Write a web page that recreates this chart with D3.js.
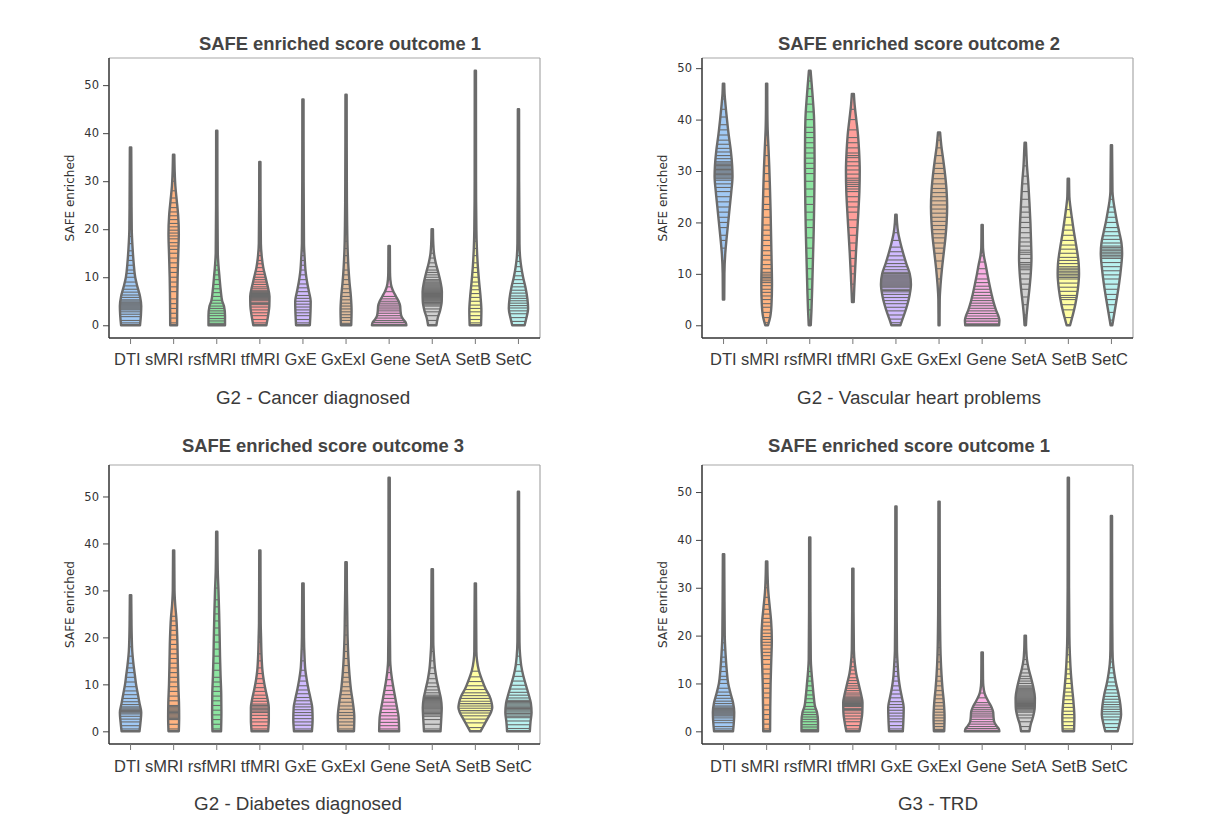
<!doctype html>
<html lang="en">
<head>
  <meta charset="utf-8">
  <title>SAFE enriched score violins</title>
  <script src="https://cdn.jsdelivr.net/npm/d3@7/dist/d3.min.js"></script>
</head>
<body style="margin: 0; background: #fff; overflow: hidden;">
<script>
// ---- data ----
const categories = ["DTI", "sMRI", "rsfMRI", "tfMRI", "GxE", "GxExI", "Gene", "SetA", "SetB", "SetC"];
const yTicks = [0, 10, 20, 30, 40, 50];
const titles = ["SAFE enriched score outcome 1", "SAFE enriched score outcome 2",
                "SAFE enriched score outcome 3", "SAFE enriched score outcome 1"];
const xLabels = ["G2 - Cancer diagnosed", "G2 - Vascular heart problems",
                 "G2 - Diabetes diagnosed", "G3 - TRD"];

// density profile per violin: [value, relative half width (1 = full violin width)]
const outcome1Density = [
  [[0,0.55],[2,0.6],[4,0.62],[6,0.55],[8,0.4],[10,0.27],[13,0.18],[16,0.12],[20,0.07],[30,0.05],[37,0.04]],
  [[0,0.2],[5,0.21],[10,0.23],[15,0.27],[19,0.3],[23,0.26],[26,0.18],[29,0.1],[32,0.06],[35.5,0.04]],
  [[0,0.48],[2,0.48],[4,0.42],[5,0.32],[7,0.24],[10,0.16],[12.5,0.1],[15,0.06],[25,0.04],[40.5,0.035]],
  [[0,0.38],[2,0.48],[4,0.55],[6,0.56],[8,0.46],[10,0.33],[12,0.2],[14,0.12],[17,0.06],[25,0.04],[34,0.035]],
  [[0,0.4],[3,0.44],[5,0.45],[7,0.35],[9,0.24],[11,0.16],[14,0.1],[17,0.06],[30,0.04],[47,0.035]],
  [[0,0.3],[3,0.32],[6,0.28],[9,0.2],[12,0.14],[16,0.09],[22,0.06],[30,0.045],[48,0.035]],
  [[0,1.0],[0.5,0.97],[1.2,0.82],[2,0.7],[3,0.66],[4,0.64],[5,0.55],[6,0.4],[7,0.25],[8,0.14],[9.5,0.07],[11,0.05],[16.5,0.04]],
  [[0,0.24],[1.5,0.32],[3,0.45],[5,0.55],[7,0.56],[9,0.48],[11,0.35],[13,0.2],[15,0.1],[17,0.06],[20,0.04]],
  [[0,0.33],[3,0.35],[6,0.3],[9,0.22],[12,0.15],[16,0.09],[20,0.06],[30,0.04],[53,0.035]],
  [[0,0.36],[1.5,0.46],[3.5,0.56],[5.5,0.52],[8,0.4],[10,0.27],[12,0.17],[14,0.1],[17,0.06],[30,0.04],[45,0.035]]
];
const outcome1Sticks = [
  [0.5,1,1.8,2.3,2.8,3.2,3.4,3.6,3.8,4,4.2,4.4,4.6,4.8,5.05,5.3,5.8,6.3,6.9,7.5,8.2,9,10,10.8,11.5,12.5,13.5,14.5,15.5,17,18.5,20,22,24,26.5,29,31,33],
  [0.5,1.5,2.5,3.5,4.5,5.5,7,8,9,10,11,12,13,14,15,15.8,16.5,17.2,18,18.6,19.2,19.8,20.5,21.2,22,22.8,23.6,24.5,25.5,26.5,28,30,31],
  [0.4,0.9,1.4,2,2.5,3,3.5,4,4.6,5.2,6,6.8,7.6,8.5,9.5,10.5,11.5,12.5],
  [0.5,1.2,2,2.6,3.2,3.8,4.3,4.55,4.8,5.2,5.4,5.6,5.8,6,6.2,6.4,6.6,6.8,7,7.2,7.6,8,8.5,9,9.5,10,10.6,11.2,12,12.8,13.5,14.5,15.5],
  [0.5,1.2,2,2.6,3.2,3.8,4.4,5,5.6,6.2,7,7.8,8.6,9.5,10.5,11.5,12.5,13.5,14.5,15.5],
  [0.4,1,1.6,2.2,2.8,3.4,4,4.6,5.3,6,6.8,7.6,8.5,9.5,10.5,11.5,13,14.5,16,17.5,19,20.5,22,24,26],
  [0.2,0.6,1,1.5,2,2.5,3,3.4,3.8,4.2,4.6,5,5.5,6,7,8,9.5],
  [1,2,2.8,3.4,4,4.25,4.5,4.75,5,5.2,5.4,5.6,5.8,6,6.2,6.4,6.6,6.8,7,7.2,7.4,7.6,7.8,8,8.2,8.4,8.6,8.8,9,9.25,9.5,10,10.5,11,11.5,12.2,13,14,15,16.5],
  [0.5,1.2,2,2.8,3.5,4.2,5,5.8,6.6,7.4,8.2,9,10,11,12,13,14.5,16,17.5,19,20.5],
  [0.8,1.6,2.4,3,3.6,4.1,4.6,5.1,5.6,6.1,6.7,7.3,8,8.7,9.5,10.3,11.2,12.2,13.3,14.5]
];

const outcome2Density = [
  [[5,0.04],[10,0.05],[14,0.1],[17,0.18],[20,0.27],[23,0.36],[26,0.45],[29,0.52],[31,0.5],[34,0.42],[37,0.3],[40,0.2],[43,0.11],[45,0.06],[47,0.04]],
  [[0,0.08],[1.5,0.2],[4,0.28],[8,0.31],[12,0.29],[17,0.26],[22,0.23],[27,0.19],[31,0.15],[35,0.1],[38,0.06],[42,0.04],[47,0.035]],
  [[0,0.06],[3,0.1],[7,0.14],[12,0.18],[17,0.22],[22,0.25],[27,0.27],[32,0.28],[37,0.27],[41,0.24],[44,0.18],[47,0.11],[49.5,0.05]],
  [[4.5,0.05],[7,0.08],[10,0.12],[14,0.18],[18,0.25],[22,0.32],[26,0.38],[30,0.4],[34,0.36],[37,0.3],[40,0.2],[43,0.1],[45,0.06]],
  [[0,0.26],[1,0.36],[2.5,0.52],[4,0.66],[6,0.8],[8,0.87],[10,0.8],[12,0.6],[14,0.42],[16,0.26],[18,0.13],[20,0.06],[21.5,0.04]],
  [[0,0.03],[5,0.04],[8,0.09],[11,0.17],[14,0.27],[17,0.37],[20,0.44],[23,0.47],[26,0.44],[29,0.36],[32,0.25],[35,0.13],[37.5,0.06]],
  [[0,0.98],[1,1.0],[2,0.92],[3,0.8],[4.5,0.66],[6,0.55],[8,0.42],[10,0.3],[12,0.19],[13.5,0.1],[15,0.05],[19.5,0.035]],
  [[0,0.04],[2,0.08],[4,0.14],[7,0.24],[10,0.32],[13,0.36],[16,0.34],[20,0.3],[24,0.24],[28,0.17],[31,0.1],[34,0.06],[35.5,0.04]],
  [[0,0.1],[1.5,0.22],[4,0.4],[7,0.55],[10,0.62],[12,0.6],[15,0.48],[18,0.33],[21,0.2],[23,0.12],[25,0.06],[28.5,0.04]],
  [[0,0.05],[2,0.15],[5,0.3],[8,0.44],[11,0.55],[14,0.62],[16,0.58],[18,0.46],[20,0.33],[22,0.22],[24,0.12],[26,0.06],[35,0.035]]
];
const outcome2Sticks = [
  [7,10,12.5,15,16.5,17.5,19,20,21,22,23,24,25,26,26.8,27.5,28.2,28.5,28.8,29.05,29.3,29.55,29.8,30.05,30.3,30.55,30.8,31.05,31.3,31.55,31.8,32.4,33,33.7,34.4,35.2,36,37,38,39,40.5,42,44],
  [0.5,1.5,2.5,3.5,4.2,5,5.7,6.4,7,7.7,8.3,8.65,9,9.3,9.6,9.95,10.3,11,11.8,12.7,13.6,14.5,15.5,16.5,17.5,18.5,19.5,21,22.5,23.5,25,26.5,28,29.5,31,33,35,37],
  [1,3,5,7,9,11,13,15,17,19,20.5,22,23.5,25,26.5,28,29.5,30.5,31.5,32.5,33.5,34.5,35.5,36.5,37.5,38.5,40,41.5,43,44.5,46,47.5],
  [6,8,10,11.5,13,14.5,16,17.5,19,20.5,22,23,24,25,26,26.5,27,27.4,27.8,28.2,28.6,29.4,30.2,31,31.8,32.6,33,33.5,34.5,35.5,36.5,38,40,42],
  [0.5,1.2,2,2.8,3.5,4.2,4.8,5.4,6,6.5,6.75,7,7.4,7.6,7.8,8,8.2,8.4,8.6,8.8,9,9.2,9.4,9.6,9.8,10.05,10.3,10.8,11.4,12,12.7,13.5,14.3,15.2,16.5,18],
  [9,11,12.5,14,15,16,17,17.8,18.6,19.4,20.2,21,21.8,22.6,23.4,24.2,25,25.8,26.6,27.5,28.5,29.5,30.5,31.5,33,34.5,36],
  [0.3,0.8,1.3,1.8,2.3,2.8,3.3,3.8,4.3,4.8,5.3,5.8,6.4,7,7.6,8.3,9,10,11,12.3,13.5],
  [2,4,5.5,7,8,9,10,10.8,11.15,11.5,11.85,12.2,13,13.8,14.2,14.6,15.4,16.2,17,18,19,20,21,22,23,24.5,26,27.5,29,31,33],
  [1.5,3,4,5,5.4,5.8,6.6,7.4,8.2,9,9.3,9.6,9.9,10.2,10.5,10.8,11.1,11.4,12,12.6,13.2,14,14.8,15.6,16.5,17.5,18.5,19.5,21,22.5,24.5],
  [1,2.5,4,5,6,7,8,9,9.8,10.6,11.4,12.2,13,13.3,13.6,13.9,14.2,14.5,14.8,15.1,15.4,16,16.7,17.4,18.2,19,20,21,22,23,24.5]
];

const outcome3Density = [
  [[0,0.52],[2,0.58],[4,0.62],[6,0.52],[8,0.42],[10,0.32],[12,0.25],[14,0.18],[17,0.1],[20,0.07],[25,0.05],[29,0.04]],
  [[0,0.3],[3,0.32],[6,0.31],[10,0.27],[15,0.24],[20,0.21],[24,0.16],[27,0.09],[30,0.05],[38.5,0.035]],
  [[0,0.25],[4,0.27],[8,0.26],[12,0.22],[16,0.19],[20,0.17],[25,0.14],[30,0.1],[34,0.06],[42.5,0.035]],
  [[0,0.48],[2.5,0.52],[5,0.52],[7,0.44],[9,0.32],[11,0.22],[13,0.15],[16,0.1],[20,0.07],[23,0.05],[38.5,0.035]],
  [[0,0.52],[2.5,0.56],[5,0.54],[7,0.44],[9,0.32],[11,0.22],[13,0.14],[16,0.09],[20,0.06],[31.5,0.04]],
  [[0,0.46],[3,0.48],[6,0.4],[9,0.28],[12,0.2],[16,0.13],[20,0.09],[25,0.07],[30,0.05],[36,0.04]],
  [[0,0.58],[3,0.55],[5,0.46],[7,0.36],[9,0.26],[11,0.17],[13,0.1],[15,0.06],[25,0.04],[54,0.035]],
  [[0,0.48],[2.5,0.52],[5,0.55],[7,0.5],[9,0.38],[11,0.26],[13,0.17],[16,0.1],[19,0.06],[34.5,0.04]],
  [[0,0.3],[1,0.45],[2.5,0.68],[4,0.9],[5,0.98],[6,0.95],[7.5,0.82],[9,0.6],[11,0.38],[13,0.2],[15,0.1],[17,0.06],[31.5,0.035]],
  [[0,0.66],[2,0.7],[4,0.76],[6,0.72],[8,0.58],[10,0.42],[12,0.27],[14,0.16],[16,0.1],[19,0.06],[30,0.04],[51,0.035]]
];
const outcome3Sticks = [
  [0.5,1.2,2,2.6,3.2,3.7,3.95,4.2,4.45,4.7,4.95,5.2,5.7,6.3,7,7.8,8.6,9.5,10.5,11.5,12.5,13.5,14.5,16,18,20.5,23,25],
  [0.5,1.5,2.5,2.75,3,3.25,3.5,3.75,4,4.25,4.5,4.75,5,5.25,5.5,6.5,7.5,8.5,9.5,10.5,11.5,12.5,13.5,14.5,15.5,16.5,17.5,18.5,19.5,20.5,21.5,22.5,23.5,24.5],
  [0.5,1.5,2.5,3.5,4.5,5.5,6.5,7.5,8.5,9.5,10.5,11.5,13,14.5,16,17.5,19,20.5,22,23.5,25,26.5,28,30.5],
  [0.5,1.2,2,2.7,3.4,4,4.3,4.6,4.9,5.2,5.5,5.8,6.4,7,7.7,8.5,9.3,10.2,11.2,12.3,13.5,15,16.5,19,22],
  [0.5,1.3,2,2.7,3.4,4,4.6,5.2,5.8,6.5,7.2,8,8.8,9.7,10.7,11.8,13,15,17.5,20,22,24.5,27],
  [0.5,1.3,2,2.7,3.4,4,4.7,5.4,6.2,7,7.8,8.6,9.5,10.5,11.5,12.5,14,15.5,17,18.5,20.5,22.5,25,27,30],
  [0.5,1.2,1.9,2.6,3.3,4,4.7,5.4,6.2,7,7.8,8.7,9.7,11,12.5,14],
  [0.5,1.5,2.5,3.2,3.5,3.8,4.05,4.3,4.55,4.8,5,5.2,5.4,5.6,5.8,6,6.2,6.4,6.6,6.8,7,7.2,7.45,7.7,8.2,8.8,9.5,10.3,11.2,12.3,13.5,15,17,19,22],
  [0.8,1.8,2.6,3.3,3.9,4.4,4.9,5.4,5.9,6.4,7,7.6,8.2,8.9,9.7,10.6,11.6,12.8],
  [0.6,1.4,2.2,2.9,3.2,3.5,3.8,4.1,4.35,4.6,4.85,5.1,5.35,5.6,5.85,6.1,6.35,6.6,7.1,7.7,8.3,9,9.8,10.7,11.7,12.8,14.2,16,18]
];

// ---- layout ----
const config = { width: 1207, height: 831 };
const palette = ["#a1c9f4", "#ffb482", "#8de5a1", "#ff9f9b", "#d0bbff",
                 "#debb9b", "#fab0e4", "#cfcfcf", "#fffea3", "#b9f2f0"];
const gray = "#6b6b6b";
const panels = [
  { left: 109, right: 540, top: 58, bottom: 338, titleX: 340, titleY: 50, tickLabelStart: 114, tickLabelY: 365, labelX: 313, labelY: 404, yLabelX: 70 },
  { left: 702, right: 1133, top: 58, bottom: 338, titleX: 919, titleY: 50, tickLabelStart: 710, tickLabelY: 365, labelX: 919, labelY: 404, yLabelX: 663 },
  { left: 109, right: 540, top: 465, bottom: 744, titleX: 323, titleY: 452, tickLabelStart: 114, tickLabelY: 772, labelX: 298, labelY: 810, yLabelX: 70 },
  { left: 702, right: 1133, top: 465, bottom: 744, titleX: 909, titleY: 452, tickLabelStart: 710, tickLabelY: 772, labelX: 938, labelY: 810, yLabelX: 663 }
];
const tickRowWidth = 418;
const datasets = [
  [outcome1Density, outcome1Sticks],
  [outcome2Density, outcome2Sticks],
  [outcome3Density, outcome3Sticks],
  [outcome1Density, outcome1Sticks]
];

let svg = d3.select("body").append("svg")
  .attr("width", config.width)
  .attr("height", config.height);

// linear lookup of the half width at a value
function widthAt(prof, v) {
  for (let k = 1; k < prof.length; k++) {
    if (v <= prof[k][0]) {
      let t = (v - prof[k-1][0]) / (prof[k][0] - prof[k-1][0]);
      return prof[k-1][1] + t * (prof[k][1] - prof[k-1][1]);
    }
  }
  return prof[prof.length-1][1];
}

panels.forEach((p, pi) => {
  let density = datasets[pi][0], sticks = datasets[pi][1];
  let g = svg.append("g");

  let xScale = d3.scaleBand().domain(categories).range([p.left, p.right]);
  let ymax = d3.max(density, d => d3.max(d, e => e[0]));
  let yScale = d3.scaleLinear()
    .domain([-ymax * 0.05, ymax * 1.05])
    .range([p.bottom, p.top]);
  let half = xScale.bandwidth() * 0.4;

  density.forEach((prof, i) => {
    let cx = xScale(categories[i]) + xScale.bandwidth() / 2;
    let area = d3.area()
      .curve(d3.curveMonotoneY)
      .y(d => yScale(d[0]))
      .x0(d => cx - d[1] * half)
      .x1(d => cx + d[1] * half);

    g.append("path").attr("d", area(prof)).attr("fill", palette[i]);

    sticks[i].forEach(v => {
      let w = widthAt(prof, v) * half;
      g.append("line")
        .attr("x1", cx - w).attr("x2", cx + w)
        .attr("y1", yScale(v)).attr("y2", yScale(v))
        .attr("stroke", gray)
        .attr("stroke-width", 1.1);
    });

    g.append("path").attr("d", area(prof))
      .attr("fill", "none")
      .attr("stroke", gray)
      .attr("stroke-width", 2.4)
      .attr("stroke-linejoin", "round");
  });

  // frame
  g.append("line").attr("x1", p.left).attr("x2", p.right).attr("y1", p.top).attr("y2", p.top)
    .attr("stroke", "#a8a8a8").attr("stroke-width", 1.2);
  g.append("line").attr("x1", p.right).attr("x2", p.right).attr("y1", p.top).attr("y2", p.bottom)
    .attr("stroke", "#a8a8a8").attr("stroke-width", 1.2);

  let yAxis = g.append("g")
    .attr("transform", "translate(" + p.left + ",0)")
    .call(d3.axisLeft(yScale).tickValues(yTicks).tickSize(6).tickPadding(4));
  yAxis.select(".domain").attr("stroke", "#333").attr("stroke-width", 1.5)
    .attr("d", "M0," + p.top + "V" + p.bottom);
  yAxis.selectAll(".tick line").attr("stroke", "#444");
  yAxis.selectAll(".tick text")
    .attr("font-family", "DejaVu Sans").attr("font-size", 11.5).attr("fill", "#333");

  let xAxis = g.append("g")
    .attr("transform", "translate(0," + p.bottom + ")")
    .call(d3.axisBottom(xScale).tickSize(6));
  xAxis.select(".domain").attr("stroke", "#333").attr("stroke-width", 1.5)
    .attr("d", "M" + p.left + ",0H" + p.right);
  xAxis.selectAll(".tick line").attr("stroke", "#777");

  // the names in the picture run as one evenly spaced row, not centred on ticks
  let tickTexts = xAxis.selectAll(".tick text")
    .attr("font-family", "Liberation Sans").attr("font-size", 16.5).attr("fill", "#3a3a3a")
    .attr("dy", null).attr("y", p.tickLabelY - p.bottom);
  let widths = tickTexts.nodes().map(n => n.getComputedTextLength());
  let gap = (tickRowWidth - d3.sum(widths)) / (widths.length - 1);
  let cursor = p.tickLabelStart;
  tickTexts.each(function(d, i) {
    let centre = cursor + widths[i] / 2;
    let tickX = xScale(d) + xScale.bandwidth() / 2;
    d3.select(this).attr("x", centre - tickX);
    cursor += widths[i] + gap;
  });

  g.append("text")
    .attr("x", p.titleX).attr("y", p.titleY)
    .attr("text-anchor", "middle")
    .attr("font-family", "Liberation Sans").attr("font-weight", "bold")
    .attr("font-size", 18.4).attr("fill", "#444")
    .text(titles[pi]);

  g.append("text")
    .attr("x", p.labelX).attr("y", p.labelY)
    .attr("text-anchor", "middle")
    .attr("font-family", "Liberation Sans")
    .attr("font-size", 18.8).attr("fill", "#3a3a3a")
    .text(xLabels[pi]);

  g.append("text")
    .attr("transform", "translate(" + p.yLabelX + "," + (p.top + p.bottom) / 2 + ") rotate(-90)")
    .attr("text-anchor", "middle")
    .attr("dy", "0.35em")
    .attr("font-family", "DejaVu Sans")
    .attr("font-size", 12).attr("fill", "#333")
    .text("SAFE enriched");
});
</script>
</body>
</html>
